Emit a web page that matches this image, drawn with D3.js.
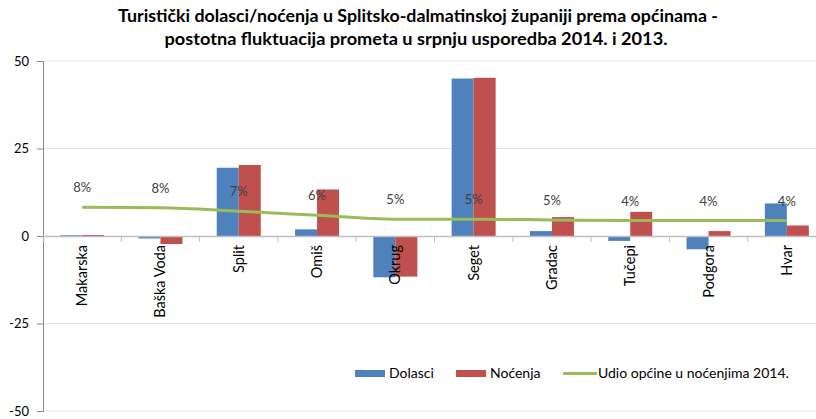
<!DOCTYPE html>
<html>
<head>
<meta charset="utf-8">
<script src="https://cdn.jsdelivr.net/npm/d3@7"></script>
<style>
body { margin: 0; background: #fff; }
text { font-family: Lato, "Open Sans", sans-serif; }
</style>
</head>
<body>
<svg width="816" height="419"></svg>
<script>
var categories = ["Makarska", "Baška Voda", "Split", "Omiš", "Okrug", "Seget", "Gradac", "Tučepi", "Podgora", "Hvar"];
var dolasci = [0.2, -0.7, 19.5, 1.9, -11.8, 45.0, 1.4, -1.4, -3.8, 9.3];
var nocenja = [0.3, -2.3, 20.3, 13.3, -11.6, 45.2, 5.4, 6.9, 1.4, 3.0];
var udio = [8.2, 8.1, 7.1, 5.9, 4.8, 4.8, 4.6, 4.4, 4.4, 4.4];
var yTicks = [50, 25, 0, -25, -50];

var svg = d3.select("svg");

var x = d3.scaleBand()
    .domain(categories)
    .range([43, 826]);

var y = d3.scaleLinear()
    .domain([-50, 50])
    .range([411, 61]);

var barW = 22;

// grid
svg.append("g")
    .selectAll("line")
    .data(yTicks.filter(function(d) { return d !== 0; }))
    .enter().append("line")
    .attr("x1", 43).attr("x2", 816)
    .attr("y1", function(d) { return y(d); })
    .attr("y2", function(d) { return y(d); })
    .attr("stroke", "#e6e6e6")
    .attr("stroke-width", 1);

// y axis
var yAxis = d3.axisLeft(y)
    .tickValues(yTicks)
    .tickSize(6)
    .tickPadding(8)
    .tickFormat(function(d) { return String(d); });

var gy = svg.append("g")
    .attr("transform", "translate(43,0)")
    .call(yAxis);
gy.select(".domain").attr("stroke", "#868686");
gy.selectAll(".tick line").attr("stroke", "#868686");
gy.selectAll(".tick text")
    .attr("font-size", 13)
    .attr("fill", "#000");

// bars
svg.append("g")
    .selectAll("rect")
    .data(dolasci)
    .enter().append("rect")
    .attr("x", function(d, i) { return x(categories[i]) + x.bandwidth() / 2 - barW; })
    .attr("y", function(d) { return y(Math.max(0, d)); })
    .attr("width", barW)
    .attr("height", function(d) { return Math.abs(y(d) - y(0)); })
    .attr("fill", "#4F81BD");

svg.append("g")
    .selectAll("rect")
    .data(nocenja)
    .enter().append("rect")
    .attr("x", function(d, i) { return x(categories[i]) + x.bandwidth() / 2; })
    .attr("y", function(d) { return y(Math.max(0, d)); })
    .attr("width", barW)
    .attr("height", function(d) { return Math.abs(y(d) - y(0)); })
    .attr("fill", "#C0504D");

// zero line with category ticks
var xAxis = d3.axisBottom(x)
    .tickSize(6)
    .tickFormat("");
var gx = svg.append("g")
    .attr("transform", "translate(0," + y(0) + ")")
    .call(xAxis);
gx.select(".domain").attr("stroke", "#bfbfbf").attr("stroke-width", 1.5);
gx.selectAll(".tick").remove();
gx.selectAll(".sep")
    .data(categories.slice(1))
    .enter().append("line")
    .attr("x1", function(d) { return x(d); })
    .attr("x2", function(d) { return x(d); })
    .attr("y1", 0).attr("y2", 6)
    .attr("stroke", "#bfbfbf");

// category labels
svg.append("g")
    .selectAll("text")
    .data(categories)
    .enter().append("text")
    .attr("transform", function(d) {
        return "translate(" + (x(d) + x.bandwidth() / 2 + 5) + "," + (y(0) + 9) + ") rotate(-90)";
    })
    .attr("text-anchor", "end")
    .attr("font-size", 14.5)
    .attr("fill", "#000")
    .text(function(d) { return d; });

// line
var line = d3.line()
    .x(function(d, i) { return x(categories[i]) + x.bandwidth() / 2; })
    .y(function(d) { return y(d); })
    .curve(d3.curveMonotoneX);

svg.append("path")
    .datum(udio)
    .attr("d", line)
    .attr("fill", "none")
    .attr("stroke", "#9BBB59")
    .attr("stroke-width", 3);

svg.append("g")
    .selectAll("text")
    .data(udio)
    .enter().append("text")
    .attr("x", function(d, i) { return x(categories[i]) + x.bandwidth() / 2; })
    .attr("y", function(d) { return y(d) - 15; })
    .attr("text-anchor", "middle")
    .attr("font-size", 13)
    .attr("fill", "#404040")
    .text(function(d) { return Math.round(d) + "%"; });

// title
var title = svg.append("text")
    .attr("text-anchor", "middle")
    .attr("font-size", 16.5)
    .attr("font-weight", "bold")
    .attr("fill", "#000");
title.append("tspan").attr("x", 418).attr("y", 22)
    .attr("textLength", 600).attr("lengthAdjust", "spacingAndGlyphs")
    .text("Turistički dolasci/noćenja u Splitsko-dalmatinskoj županiji prema općinama -");
title.append("tspan").attr("x", 416).attr("y", 45)
    .attr("textLength", 503).attr("lengthAdjust", "spacingAndGlyphs")
    .text("postotna fluktuacija prometa u srpnju usporedba 2014. i 2013.");

// legend
var legend = svg.append("g");
legend.append("rect").attr("x", 355).attr("y", 370).attr("width", 30).attr("height", 7).attr("fill", "#4F81BD");
legend.append("text").attr("x", 389).attr("y", 378).attr("font-size", 14).text("Dolasci");
legend.append("rect").attr("x", 456).attr("y", 370).attr("width", 30).attr("height", 7).attr("fill", "#C0504D");
legend.append("text").attr("x", 490).attr("y", 378).attr("font-size", 14).text("Noćenja");
legend.append("line").attr("x1", 563).attr("x2", 597).attr("y1", 373.5).attr("y2", 373.5)
    .attr("stroke", "#9BBB59").attr("stroke-width", 3);
legend.append("text").attr("x", 598).attr("y", 378).attr("font-size", 14).text("Udio općine u noćenjima 2014.");
</script>
</body>
</html>
